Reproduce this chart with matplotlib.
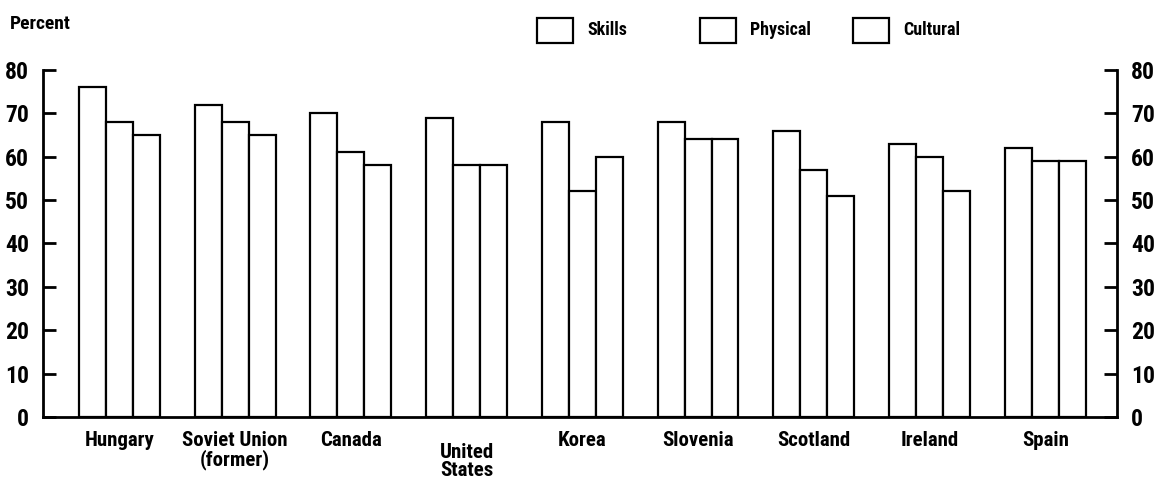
import matplotlib
matplotlib.use("Agg")
import matplotlib.pyplot as plt
from matplotlib import font_manager as fm
from matplotlib.patches import Rectangle
from matplotlib.transforms import blended_transform_factory
import numpy as np

countries = ["Hungary", "Soviet Union\n(former)", "Canada", "United\nStates", "Korea",
             "Slovenia", "Scotland", "Ireland", "Spain"]
series_names = ["Skills", "Physical", "Cultural"]
skills = [76, 72, 70, 69, 68, 68, 66, 63, 62]
physical = [68, 68, 61, 58, 52, 64, 57, 60, 59]
cultural = [65, 65, 58, 58, 60, 64, 51, 52, 59]
yticks = [0, 10, 20, 30, 40, 50, 60, 70, 80]

# pick a narrow font if available
names = {f.name for f in fm.fontManager.ttflist}
cond = [f for f in fm.fontManager.ttflist
        if ("Narrow" in f.name or "Condensed" in f.name or
            str(f.stretch) in ("condensed", "semi-condensed", "extra-condensed", "ultra-condensed")
            or (isinstance(f.stretch, int) and f.stretch < 500))]
pref = ["Liberation Sans Narrow", "Roboto Condensed", "Open Sans Condensed",
        "DejaVu Sans Condensed", "Noto Sans Condensed"]
chosen = None
for p in pref:
    if p in names:
        chosen = p
        break
stretch = "normal"
if chosen is None and cond:
    chosen = cond[0].name
    stretch = "condensed"
if chosen is None:
    chosen = "DejaVu Sans"
    stretch = "condensed"

plt.rcParams['font.family'] = [chosen, 'DejaVu Sans']
plt.rcParams['font.weight'] = 'bold'
plt.rcParams['font.stretch'] = stretch

fig = plt.figure(figsize=(11.6, 4.9), dpi=100)
ax = fig.add_axes([43/1160, 1 - 417/490, (1117-43)/1160, (417-70)/490])

x = np.arange(len(countries))
w = 0.233
for i, vals in enumerate([skills, physical, cultural]):
    ax.bar(x + (i - 1) * w, vals, width=w, facecolor="white", edgecolor="black",
           linewidth=1.6, zorder=2)

ax.set_xlim(-0.66, 8.62)
ax.set_ylim(0, 80)
ax.set_yticks(yticks)
ax.set_xticks([])
for s in ["left", "right", "bottom"]:
    ax.spines[s].set_linewidth(2)
ax.spines["top"].set_visible(False)
ax.tick_params(axis="y", which="both", direction="in", length=9.5, width=2,
               labelsize=17, pad=10, left=True, right=True, labelleft=True, labelright=True)

trans = blended_transform_factory(ax.transData, fig.transFigure)
for i, name in enumerate(countries):
    ypix = 431 if name != "United\nStates" else 443
    ax.text(x[i], 1 - ypix/490, name, transform=trans, ha="center", va="top",
            fontsize=15, linespacing=0.95)

fig.text(10/1160, 1 - 24/490, "Percent", fontsize=14, ha="left", va="center")

legend_boxes = [537, 700, 853]
for bx, name in zip(legend_boxes, series_names):
    fig.patches.append(Rectangle((bx/1160, 1 - 43/490), 36/1160, 25/490,
                                 transform=fig.transFigure, facecolor="white",
                                 edgecolor="black", linewidth=1.6))
    fig.text((bx + 50)/1160, 1 - 30/490, name, fontsize=13, ha="left", va="center")

fig.savefig("out.png", dpi=100)
